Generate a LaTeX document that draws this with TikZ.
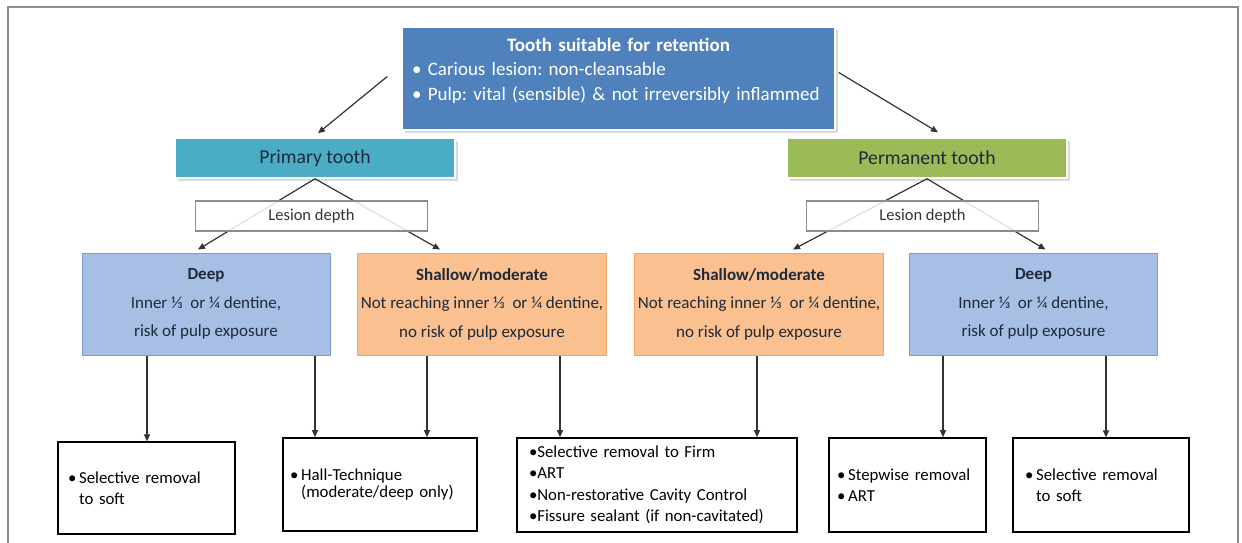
\documentclass[tikz,border=0pt]{standalone}
\usepackage{fontspec}
\setmainfont{Carlito}
\usetikzlibrary{arrows.meta, positioning, calc, shadows}
\definecolor{topblue}{HTML}{4F81BD}
\definecolor{teal}{HTML}{4BACC6}
\definecolor{leaf}{HTML}{9BBB59}
\definecolor{deepfill}{HTML}{A7BFE4}
\definecolor{deepedge}{HTML}{7E9CCF}
\definecolor{shalfill}{HTML}{FAC090}
\definecolor{shaledge}{HTML}{F0A868}
\definecolor{dkslate}{HTML}{1E2A3A}
\definecolor{frame}{HTML}{8C8C8C}
\definecolor{wire}{HTML}{333333}

\tikzset{
  card/.style={draw=white, line width=1.5pt, minimum width=280pt, minimum height=40pt,
    drop shadow={shadow xshift=2.5pt, shadow yshift=-3pt, opacity=0.3},
    font=\fontsize{19.7}{22}\selectfont, text=dkslate},
  depthbox/.style={draw=frame, line width=1.2pt, fill=white, fill opacity=0.85, text opacity=1,
    minimum width=232pt, minimum height=30pt, font=\fontsize{16.5}{18}\selectfont, text=black!80},
  lesion/.style={line width=1pt, minimum width=248pt, minimum height=102pt, align=center,
    font=\fontsize{17}{28.5}\selectfont, text=dkslate},
  deepcase/.style={lesion, fill=deepfill, draw=deepedge},
  shalcase/.style={lesion, fill=shalfill, draw=shaledge},
  option/.style={draw=black, line width=1.6pt, inner xsep=10pt, align=left,
    font=\fontsize{16.8}{21.5}\selectfont},
  wirearrow/.style={->, wire, line width=1.2pt}
}

\begin{document}
\frenchspacing
\begin{tikzpicture}[x=1pt, y=-1pt, >={Triangle[length=7pt, width=6pt]}]

\useasboundingbox (0,0) rectangle (1242,543);

% Frame
\draw[frame, line width=2.5pt] (8,543) -- (8,7) -- (1238,7) -- (1238,543);

% Top box
\node[card, fill=topblue, minimum width=433pt, minimum height=103pt] (retain) at (618.5,78.5) {};
\node[anchor=north, text=white, align=left, text width=413pt,
      font=\fontsize{19}{24.5}\selectfont] (retaintxt) at ([yshift=-8pt]retain.north)
  {\centerline{\bfseries Tooth suitable for retention}
   • Carious lesion: non-cleansable\\
   • Pulp: vital (sensible) \& not irreversibly inflammed};

% Tooth type
\node[card, fill=teal] (primary) at (315,158) {Primary tooth};
\node[card, fill=leaf] (permanent) at (927,158) {Permanent tooth};

\draw[wirearrow] ([xshift=-14pt, yshift=2pt]retain.west) -- ([xshift=3pt, yshift=4pt]primary.north);
\draw[wirearrow] ([xshift=3pt, yshift=6pt]retain.east) -- ([xshift=11pt, yshift=5pt]permanent.north);

% Lesion depth cases
\node[deepcase] (deepL) at (206,304) {\textbf{Deep}\\Inner ⅓~ or ¼ dentine,\\risk of pulp exposure};
\node[shalcase] (shalL) at (482,304) {\textbf{Shallow/moderate}\\Not reaching inner ⅓~ or ¼ dentine,\\no risk of pulp exposure};
\node[shalcase] (shalR) at (759,304) {\textbf{Shallow/moderate}\\Not reaching inner ⅓~ or ¼ dentine,\\no risk of pulp exposure};
\node[deepcase] (deepR) at (1033.5,304) {\textbf{Deep}\\Inner ⅓~ or ¼ dentine,\\risk of pulp exposure};

\draw[wirearrow] (primary.south) -- ([xshift=-8pt, yshift=3pt]deepL.north);
\draw[wirearrow] (primary.south) -- ([xshift=-42pt, yshift=3pt]shalL.north);
\draw[wirearrow] (permanent.south) -- ([xshift=34pt, yshift=3pt]shalR.north);
\draw[wirearrow] (permanent.south) -- ([xshift=12pt, yshift=3pt]deepR.north);

\node[depthbox] (depthL) at (311.5,216) {Lesion depth};
\node[depthbox] (depthR) at (922.5,216) {Lesion depth};

% Treatment options
\node[option, line width=1.1pt, minimum height=92pt, text width=157pt] (selL) at (146.5,488)
  {•\,Selective removal\\\phantom{•\,}to soft};
\node[option, inner xsep=7pt, minimum height=93pt, text width=180pt] (hall) at (380,484.5)
  {•\,Hall-Technique\\[-4.5pt]\phantom{•\,}(moderate/deep only)};
\node[option, inner xsep=12pt, minimum height=94pt, text width=256pt] (firm) at (657,485)
  {•Selective removal to Firm\\•ART\\•Non-restorative Cavity Control\\•Fissure sealant (if non-cavitated)};
\node[option, inner xsep=8pt, minimum height=94pt, text width=141pt] (step) at (907.5,485)
  {•\,Stepwise removal\\•\,ART};
\node[option, line width=1.1pt, inner xsep=12pt, minimum height=94pt, text width=152pt] (selR) at (1101,485)
  {•\,Selective removal\\\phantom{•\,}to soft};

\foreach \src/\dst/\x in {deepL/selL/147, deepL/hall/315, shalL/hall/427, shalL/firm/560,
                          shalR/firm/757, deepR/step/943, deepR/selR/1106}
  \draw[wirearrow] (\src.south -| \x,0) -- (\dst.north -| \x,0);

\end{tikzpicture}
\end{document}
